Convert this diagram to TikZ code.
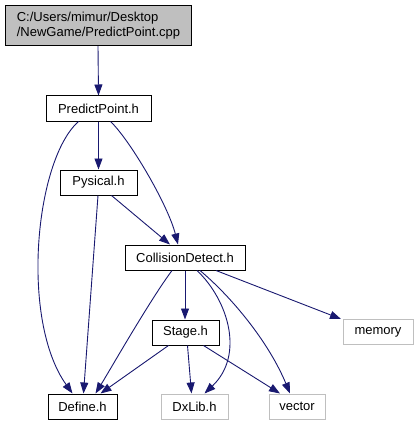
\documentclass[tikz,border=0pt]{standalone}
\usepackage{fontspec}
\setmainfont{Liberation Sans}
\usetikzlibrary{arrows.meta}
\definecolor{edgec}{HTML}{191970}
\definecolor{lgray}{HTML}{BFBFBF}
\begin{document}
\begin{tikzpicture}[x=1pt,y=-1pt,
  box/.style={draw=black,line width=1pt,fill=white,rectangle,inner sep=0pt,minimum height=25pt,font=\fontsize{13}{15}\selectfont},
  gbox/.style={box,draw=lgray},
  e/.style={draw=edgec,line width=0.9pt,-{Triangle[length=11pt,width=8pt]}}]
\useasboundingbox (0,0) rectangle (419,425);
\node[box,fill=lgray,minimum width=186pt,minimum height=40pt,align=left,anchor=north west] (top) at (5,5) {C:/Users/mimur/Desktop\\/NewGame/PredictPoint.cpp};
\node[box,minimum width=105pt] (pp) at (98.5,108.5) {PredictPoint.h};
\node[box,minimum width=77pt] (py) at (98.5,182.5) {Pysical.h};
\node[box,minimum width=120pt] (cd) at (185,257.5) {CollisionDetect.h};
\node[box,minimum width=67pt] (st) at (185.5,332.5) {Stage.h};
\node[gbox,minimum width=70pt] (mem) at (378,332) {memory};
\node[box,minimum width=69pt] (def) at (82.5,406.5) {Define.h};
\node[gbox,minimum width=67pt] (dx) at (194.5,406.5) {DxLib.h};
\node[gbox,minimum width=56pt] (vec) at (297,406.5) {vector};
% edges
\draw[e] ([xshift=-0.5pt]top.south) -- (pp.north);
\draw[e] (pp.south) -- (py.north);
\draw[e] ([xshift=-20pt]pp.south) .. controls (35,160) and (20,320) .. ([xshift=-10pt]def.north);
\draw[e] ([xshift=12pt]pp.south) .. controls (130,140) and (168,205) .. ([xshift=-7pt]cd.north);
\draw[e] ([xshift=13pt]py.south) -- ([xshift=-15pt]cd.north);
\draw[e] ([xshift=-0.5pt]py.south) -- ([xshift=1pt]def.north);
\draw[e] ([xshift=-13pt]cd.south) .. controls (150,300) and (110,370) .. ([xshift=13pt]def.north);
\draw[e] (cd.south) -- ([xshift=-0.5pt]st.north);
\draw[e] ([xshift=12pt]cd.south) .. controls (228,300) and (245,355) .. ([xshift=10pt]dx.north);
\draw[e] ([xshift=15pt]cd.south) .. controls (235,300) and (270,345) .. ([xshift=-7pt]vec.north);
\draw[e] ([xshift=31pt]cd.south) -- ([xshift=-37pt]mem.north);
\draw[e] ([xshift=-17pt]st.south) -- ([xshift=18pt]def.north);
\draw[e] ([xshift=2pt]st.south) -- ([xshift=-3pt]dx.north);
\draw[e] ([xshift=18pt]st.south) -- ([xshift=-17pt]vec.north);
\end{tikzpicture}
\end{document}
